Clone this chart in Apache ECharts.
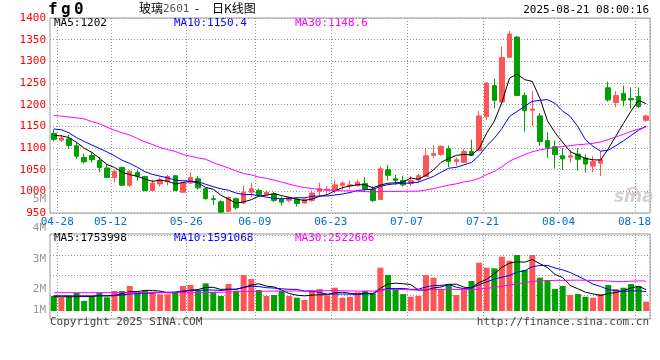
<!DOCTYPE html>
<html><head><meta charset="utf-8">
<script src="https://cdn.jsdelivr.net/npm/echarts@6/dist/echarts.min.js"></script>
<style>html,body{margin:0;padding:0;background:#fff}#c{width:660px;height:360px}</style>
</head><body><div id="c"></div>
<script>
const dates = ['04-28','04-29','04-30','05-06','05-07','05-08','05-09','05-12','05-13','05-14','05-15','05-16','05-19','05-20','05-21','05-22','05-23','05-26','05-27','05-28','05-29','05-30','06-03','06-04','06-05','06-06','06-09','06-10','06-11','06-12','06-13','06-16','06-17','06-18','06-19','06-20','06-23','06-24','06-25','06-26','06-27','06-30','07-01','07-02','07-03','07-04','07-07','07-08','07-09','07-10','07-11','07-14','07-15','07-16','07-17','07-18','07-21','07-22','07-23','07-24','07-25','07-28','07-29','07-30','07-31','08-01','08-04','08-05','08-06','08-07','08-08','08-11','08-12','08-13','08-14','08-15','08-18','08-19','08-20'];
const xLabels = ['04-28','05-12','05-26','06-09','06-23','07-07','07-21','08-04','08-18'];
const priceTicks = [950,1400,50];

const open  = [1134,1118,1121,1105,1078,1083,1071,1054,1032,1055,1014,1044,1034,1002,1017,1022,1036,998,1019,1029,1006,983,976,954,983,973,998,1002,993,994,981,979,982,973,979,1000,1003,1001,1014,1013,1013,1018,1005,981,1050,1029,1025,1018,1026,1034,1083,1085,1098,1069,1067,1092,1094,1172,1244,1206,1309,1356,1221,1187,1174,1117,1103,1082,1079,1086,1077,1058,1065,1239,1205,1226,1214,1219,1164];
const close = [1120,1123,1106,1081,1068,1073,1055,1032,1046,1014,1046,1035,1002,1019,1027,1034,1002,1019,1032,1008,983,981,952,986,962,998,1006,992,998,979,975,986,972,982,996,1006,1005,1015,1019,1015,1021,1005,979,1052,1037,1025,1015,1025,1036,1082,1087,1104,1069,1073,1092,1083,1174,1250,1210,1309,1363,1221,1186,1190,1115,1101,1085,1075,1082,1074,1063,1069,1073,1211,1221,1210,1211,1196,1174];
const low   = [1115,1114,1099,1075,1064,1066,1044,1031,1021,1012,1011,1025,1000,1001,1011,1013,1000,996,1017,1004,981,969,950,952,958,971,987,988,990,975,967,975,965,972,976,988,995,996,1004,1005,1011,1000,975,981,1025,1015,1011,1013,1020,1033,1077,1082,1056,1058,1067,1082,1092,1164,1192,1200,1309,1220,1138,1150,1105,1077,1053,1050,1066,1048,1043,1044,1035,1207,1194,1196,1191,1192,1161];
const high  = [1143,1131,1130,1112,1087,1091,1079,1062,1050,1057,1050,1049,1036,1027,1032,1038,1037,1021,1044,1035,1008,991,979,988,986,1013,1019,1006,1002,998,988,988,986,984,1002,1020,1013,1025,1023,1025,1027,1032,1011,1057,1061,1038,1036,1035,1041,1100,1106,1106,1106,1079,1098,1119,1186,1252,1260,1334,1370,1358,1228,1231,1181,1136,1117,1100,1095,1100,1085,1081,1092,1253,1231,1244,1240,1240,1177];

const ma5  = [1129,1128,1124,1113,1099.4,1090.1,1076.6,1061.9,1055.0,1044.1,1038.7,1034.6,1028.4,1023.1,1025.7,1023.3,1016.9,1020.5,1023.1,1019.2,1009.1,1004.7,991.2,981.9,972.7,975.6,980.7,988.9,991.2,994.7,990.1,986.1,981.9,978.9,982.3,988.6,992.4,1001.2,1008.5,1012.3,1015.2,1015.2,1008.0,1014.5,1018.7,1019.7,1021.6,1030.8,1027.8,1036.9,1049.3,1067.0,1075.7,1083.1,1085.1,1084.1,1098.3,1134.4,1161.8,1205.1,1261.1,1270.5,1257.7,1253.7,1215.0,1162.6,1135.3,1113.1,1091.6,1083.4,1075.8,1072.7,1072.3,1098.1,1127.3,1156.7,1185.2,1209.8,1202.4];
const ma10 = [1144,1142,1135,1124,1115,1107,1099,1091,1082,1071.8,1064.4,1055.6,1045.2,1039.1,1034.9,1031.0,1025.8,1024.5,1023.1,1022.5,1016.2,1010.8,1005.8,1002.5,996.0,992.4,992.7,990.0,986.6,983.7,982.9,983.4,985.4,985.0,988.5,989.3,989.3,991.6,993.7,997.3,1001.9,1003.8,1004.6,1011.5,1015.5,1017.4,1018.4,1019.4,1021.1,1027.8,1034.5,1044.3,1053.3,1055.4,1061.0,1066.7,1082.6,1105.1,1122.4,1145.1,1172.6,1184.4,1196.1,1207.7,1210.0,1211.8,1202.9,1185.4,1172.7,1149.2,1119.2,1104.0,1092.7,1094.8,1105.4,1116.3,1128.9,1141.0,1150.3];
const ma30 = [1175,1173.5,1171.5,1169.5,1167,1161,1156,1148,1141,1135,1130,1122,1114,1108,1101,1096,1092,1085,1081,1077,1074,1066,1060,1054,1047,1041,1038,1033,1030,1026.0,1021.2,1016.6,1012.1,1008.9,1006.5,1004.2,1002.6,1002.0,1001.1,1001.2,1000.3,999.3,998.6,999.7,1000.0,999.7,1000.1,1000.3,1000.5,1002.9,1006.4,1010.5,1014.4,1017.3,1021.7,1024.5,1030.1,1038.7,1045.7,1056.7,1069.7,1077.5,1084.6,1091.5,1095.5,1098.7,1101.3,1103.3,1105.4,1107.4,1108.8,1110.9,1114.0,1119.3,1125.5,1131.6,1138.1,1143.8,1148.4];

// volume in millions of lots
const vol   = [1.23,1.12,1.25,1.50,0.82,1.23,1.50,1.12,1.64,1.64,2.05,1.50,1.64,1.58,1.37,1.37,1.58,2.05,2.13,1.66,2.27,1.58,1.23,2.21,1.66,2.95,2.62,1.72,1.23,1.31,1.66,1.23,1.09,0.90,1.64,1.80,1.27,1.91,1.09,1.17,1.53,1.64,1.45,3.55,2.95,1.80,1.39,1.17,1.23,2.95,2.73,1.78,2.21,1.31,1.72,2.46,3.96,3.55,3.50,4.45,4.12,4.59,3.36,4.59,2.73,2.54,1.80,2.05,1.31,1.39,1.17,1.09,1.39,2.13,1.80,1.91,2.21,2.05,0.76];
const vma5  = [1.17,1.17,1.17,1.17,1.18,1.18,1.26,1.23,1.26,1.43,1.59,1.59,1.69,1.68,1.63,1.49,1.51,1.59,1.70,1.76,1.94,1.94,1.77,1.79,1.79,1.93,2.13,2.23,2.04,1.97,1.71,1.43,1.30,1.24,1.30,1.33,1.34,1.50,1.54,1.45,1.39,1.47,1.38,1.87,2.22,2.28,2.23,2.17,1.71,1.71,1.89,1.97,2.18,2.20,1.95,1.90,2.33,2.60,3.04,3.58,3.92,4.04,4.00,4.22,3.88,3.56,3.00,2.74,2.09,1.82,1.54,1.40,1.27,1.43,1.52,1.66,1.89,2.02,1.75];
const vma10 = [1.25,1.25,1.24,1.24,1.24,1.24,1.25,1.26,1.28,1.31,1.39,1.43,1.46,1.47,1.53,1.54,1.55,1.64,1.69,1.69,1.72,1.72,1.68,1.75,1.77,1.93,2.04,2.00,1.91,1.88,1.82,1.78,1.77,1.64,1.64,1.52,1.39,1.40,1.39,1.38,1.36,1.40,1.44,1.71,1.84,1.84,1.85,1.77,1.79,1.97,2.09,2.10,2.18,1.95,1.83,1.90,2.15,2.39,2.62,2.77,2.91,3.19,3.30,3.63,3.73,3.74,3.52,3.37,3.15,2.85,2.55,2.20,2.01,1.76,1.67,1.60,1.65,1.65,1.59];
const vma30 = [1.50,1.50,1.50,1.50,1.50,1.50,1.50,1.50,1.50,1.50,1.50,1.50,1.50,1.50,1.50,1.50,1.50,1.50,1.50,1.50,1.50,1.52,1.54,1.56,1.58,1.60,1.61,1.62,1.62,1.63,1.64,1.64,1.64,1.62,1.65,1.66,1.66,1.68,1.66,1.65,1.63,1.64,1.63,1.70,1.75,1.76,1.76,1.73,1.70,1.74,1.76,1.76,1.79,1.76,1.77,1.75,1.80,1.86,1.93,2.04,2.12,2.23,2.31,2.43,2.47,2.49,2.51,2.51,2.52,2.53,2.52,2.50,2.49,2.45,2.41,2.41,2.44,2.47,2.45];
const volTickLabels = ['5M','4M','3M','2M','1M'];

const legendMain = ['MA5:1202','MA10:1150.4','MA30:1148.6'];
const legendVol  = ['MA5:1753998','MA10:1591068','MA30:2522666'];
const maColors = ['#000000','#0000ff','#ff00ff'];

const UP = '#ff5555', DOWN = '#00a000';
const MONO = '"DejaVu Sans Mono", "Liberation Mono", monospace';
const labelSet = new Set(xLabels.map(l => dates.indexOf(l)));
const dotted = {color: '#9a9a9a', type: [1, 2], width: 1};

const chart = echarts.init(document.getElementById('c'), null, {renderer: 'canvas'});

function xAx(gi, showLabel) {
  return {
    type: 'category', gridIndex: gi, data: dates, boundaryGap: true,
    axisLine: {show: false}, axisTick: {show: false},
    axisLabel: showLabel ? {
      show: true, interval: (i) => labelSet.has(i), color: '#0070c8',
      fontFamily: MONO, fontSize: 11, margin: 4, padding: [0, 0, 0, 7]
    } : {show: false},
    splitLine: {show: true, interval: (i) => labelSet.has(i - 1), lineStyle: dotted}
  };
}

const legendText = (arr, y) => arr.map((t, k) => ({
  type: 'text', left: [54, 174, 295][k], top: y,
  style: {text: t, fill: maColors[k], font: '11px ' + MONO}
}));

const volLabelY = [200.5, 230, 260.5, 290.5, 311.5];

const option = {
  animation: false,
  backgroundColor: '#fff',
  grid: [
    {left: 50, top: 18, width: 600, height: 195, show: true, borderColor: '#999', borderWidth: 1, backgroundColor: 'transparent'},
    {left: 50, top: 234, width: 600, height: 85, show: true, borderColor: '#999', borderWidth: 1, backgroundColor: 'transparent'},
    {left: 50, top: 235, width: 600, height: 60, show: false}
  ],
  xAxis: [xAx(0, true), xAx(1, false),
    {type: 'category', gridIndex: 2, data: dates, show: false}],
  yAxis: [
    {type: 'value', gridIndex: 0, min: priceTicks[0], max: priceTicks[1], interval: priceTicks[2],
      axisLine: {show: false}, axisTick: {show: false},
      axisLabel: {color: '#ff0000', fontFamily: MONO, fontSize: 11, margin: 4, padding: [0, 0, 4, 0],
        formatter: (v) => String(v)},
      splitLine: {show: true, lineStyle: dotted}},
    {type: 'value', gridIndex: 1, min: -8 / 12.2, max: 77 / 12.2,
      axisLine: {show: false}, axisTick: {show: false}, axisLabel: {show: false}, splitLine: {show: false}},
    {type: 'value', gridIndex: 2, min: 0, max: 3, interval: 1,
      axisLine: {show: false}, axisTick: {show: false}, axisLabel: {show: false},
      splitLine: {show: true, lineStyle: dotted}}
  ],
  series: [
    {type: 'candlestick', xAxisIndex: 0, yAxisIndex: 0, barWidth: 5,
      data: dates.map((d, i) => [open[i], close[i], low[i], high[i]]),
      itemStyle: {color: UP, color0: DOWN, borderColor: UP, borderColor0: DOWN, borderWidth: 1}},
    ...[ma5, ma10, ma30].map((d, k) => ({type: 'line', xAxisIndex: 0, yAxisIndex: 0, data: d, symbol: 'none',
      lineStyle: {color: maColors[k], width: 1}, z: 5})),
    {type: 'bar', xAxisIndex: 1, yAxisIndex: 1, barWidth: 6,
      data: vol.map((v, i) => ({value: v, itemStyle: {color: close[i] >= open[i] ? UP : DOWN}}))},
    ...[vma5, vma10, vma30].map((d, k) => ({type: 'line', xAxisIndex: 1, yAxisIndex: 1, data: d, symbol: 'none',
      lineStyle: {color: maColors[k], width: 1}, z: 5}))
  ],
  graphic: [
    {type: 'text', left: 48, top: 2, style: {text: 'f', fill: '#000', font: 'bold 16px ' + MONO}},
    {type: 'text', left: 61, top: 2, style: {text: 'g', fill: '#000', font: 'bold 16px ' + MONO}},
    {type: 'text', left: 74, top: 2, style: {text: '0', fill: '#000', font: 'bold 16px ' + MONO}},
    {type: 'text', left: 139, top: 2, style: {text: '玻璃', fill: '#000', font: '12px "Noto Sans CJK SC"'}},
    {type: 'text', left: 163, top: 4, style: {text: '2601', fill: '#555', font: '11px ' + MONO}},
    {type: 'text', left: 195, top: 2, style: {text: '-', fill: '#000', font: '12px "Noto Sans CJK SC"'}},
    {type: 'text', left: 212, top: 2, style: {text: '日K线图', fill: '#000', font: '12px "Noto Sans CJK SC"'}},
    {type: 'text', right: 11, top: 5, style: {text: '2025-08-21 08:00:16', fill: '#000', font: '11px ' + MONO}},
    ...legendText(legendMain, 18),
    ...legendText(legendVol, 233),
    ...volTickLabels.map((t, k) => ({type: 'text', right: 614, top: volLabelY[k] - 7,
      style: {text: t, fill: '#999', font: '11px ' + MONO}})),
    {type: 'text', left: 50, top: 317, style: {text: 'Copyright 2025 SINA.COM', fill: '#444', font: '11px ' + MONO}},
    {type: 'text', right: 11, top: 317, style: {text: 'http://finance.sina.com.cn', fill: '#444', font: '11px ' + MONO}},
    {type: 'circle', left: 627, top: 185, shape: {r: 4}, style: {fill: 'none', stroke: '#f2c4c4', lineWidth: 2}},
    {type: 'text', left: 614, top: 189, style: {text: 'sina', fill: '#d2d2d2', font: 'italic bold 17px "DejaVu Sans"'}}
  ]
};
chart.setOption(option);
</script></body></html>
